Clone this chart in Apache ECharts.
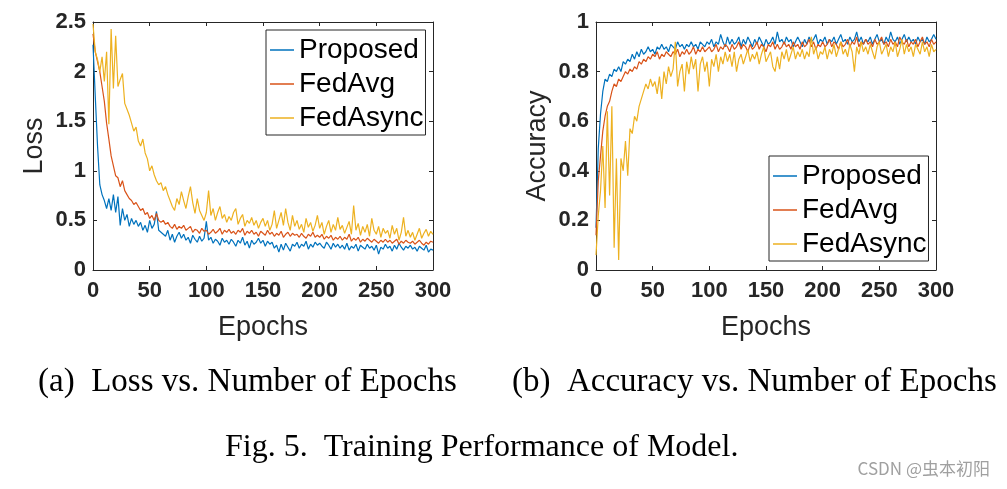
<!DOCTYPE html>
<html>
<head>
<meta charset="utf-8">
<script src="https://cdn.jsdelivr.net/npm/echarts@6/dist/echarts.min.js"></script>
<style>
html,body{margin:0;padding:0;background:#fff;}
#c{width:1007px;height:489px;}
</style>
</head>
<body>
<div id="c"></div>
<script>
// Epoch sample positions (every 2 epochs, 0..300)
const epochs = [];
for (let e = 0; e <= 300; e += 2) epochs.push(e);

const seriesNames = ['Proposed', 'FedAvg', 'FedAsync'];

const lossProposed = [
2.27,1.75,1.25,0.86,0.76,0.70,0.62,0.72,0.60,0.76,
0.58,0.74,0.45,0.62,0.50,0.56,0.44,0.52,0.46,0.50,
0.44,0.48,0.40,0.45,0.38,0.50,0.42,0.46,0.59,0.40,
0.38,0.36,0.34,0.40,0.30,0.36,0.28,0.34,0.38,0.32,
0.36,0.30,0.33,0.27,0.35,0.31,0.28,0.34,0.29,0.32,
0.49,0.30,0.33,0.27,0.31,0.29,0.25,0.32,0.28,0.30,
0.26,0.31,0.28,0.24,0.30,0.27,0.33,0.25,0.29,0.22,
0.30,0.26,0.28,0.32,0.27,0.30,0.24,0.29,0.26,0.28,
0.22,0.25,0.18,0.26,0.20,0.27,0.23,0.19,0.26,0.24,
0.28,0.22,0.26,0.24,0.29,0.21,0.26,0.23,0.28,0.25,
0.27,0.24,0.22,0.28,0.25,0.21,0.27,0.23,0.26,0.22,
0.25,0.21,0.27,0.20,0.24,0.22,0.26,0.19,0.25,0.23,
0.21,0.26,0.22,0.24,0.20,0.25,0.16,0.23,0.21,0.26,
0.22,0.24,0.19,0.25,0.21,0.27,0.23,0.20,0.24,0.22,
0.25,0.21,0.23,0.19,0.24,0.22,0.20,0.25,0.18,0.21,
0.20];

const lossFedAvg = [
2.38,2.20,2.10,2.00,1.85,1.70,1.48,1.32,1.15,1.05,
0.95,0.93,0.84,0.90,0.80,0.76,0.72,0.70,0.66,0.68,
0.64,0.60,0.62,0.56,0.58,0.52,0.55,0.50,0.57,0.50,
0.48,0.50,0.46,0.48,0.44,0.42,0.46,0.41,0.44,0.42,
0.45,0.40,0.42,0.44,0.38,0.41,0.40,0.37,0.42,0.39,
0.40,0.36,0.38,0.41,0.37,0.39,0.42,0.36,0.40,0.38,
0.41,0.37,0.39,0.36,0.40,0.38,0.42,0.35,0.39,0.37,
0.40,0.36,0.38,0.34,0.39,0.37,0.35,0.40,0.36,0.38,
0.34,0.37,0.35,0.39,0.33,0.36,0.38,0.34,0.37,0.35,
0.36,0.33,0.37,0.34,0.32,0.36,0.34,0.38,0.33,0.35,
0.33,0.36,0.31,0.34,0.32,0.35,0.30,0.33,0.31,0.34,
0.30,0.33,0.31,0.36,0.29,0.32,0.30,0.33,0.28,0.31,
0.29,0.32,0.30,0.28,0.31,0.29,0.27,0.30,0.28,0.31,
0.28,0.30,0.27,0.29,0.31,0.26,0.29,0.27,0.30,0.28,
0.27,0.29,0.26,0.28,0.30,0.27,0.25,0.28,0.26,0.29,
0.28];

const lossFedAsync = [
2.48,2.20,2.12,2.00,2.15,1.90,2.20,1.47,2.43,1.83,
2.36,1.85,1.92,1.98,1.68,1.62,1.56,1.48,1.40,1.44,
1.30,1.25,1.32,1.18,1.12,1.00,1.05,0.96,0.90,0.86,
0.88,0.80,0.84,0.76,0.70,0.64,0.60,0.72,0.66,0.79,
0.70,0.62,0.74,0.84,0.68,0.57,0.72,0.60,0.55,0.50,
0.58,0.80,0.55,0.62,0.50,0.58,0.64,0.52,0.56,0.48,
0.54,0.50,0.58,0.62,0.46,0.52,0.56,0.44,0.50,0.47,
0.53,0.45,0.50,0.42,0.48,0.52,0.44,0.50,0.40,0.46,
0.60,0.42,0.50,0.58,0.45,0.62,0.48,0.40,0.55,0.44,
0.50,0.41,0.46,0.38,0.52,0.43,0.48,0.39,0.45,0.55,
0.42,0.48,0.36,0.44,0.50,0.38,0.46,0.40,0.53,0.41,
0.45,0.37,0.43,0.49,0.36,0.65,0.40,0.47,0.35,0.44,
0.38,0.46,0.34,0.52,0.40,0.36,0.44,0.33,0.42,0.37,
0.40,0.32,0.45,0.36,0.42,0.30,0.38,0.53,0.34,0.40,
0.33,0.38,0.30,0.36,0.42,0.32,0.37,0.41,0.34,0.39,
0.36];

const accProposed = [
0.17,0.49,0.63,0.72,0.77,0.76,0.79,0.78,0.81,0.80,
0.82,0.80,0.84,0.83,0.85,0.84,0.87,0.85,0.88,0.86,
0.89,0.87,0.88,0.90,0.88,0.89,0.87,0.90,0.89,0.91,
0.89,0.90,0.88,0.91,0.90,0.89,0.92,0.90,0.91,0.89,
0.91,0.90,0.92,0.90,0.91,0.89,0.92,0.91,0.90,0.92,
0.91,0.93,0.90,0.92,0.91,0.95,0.92,0.90,0.94,0.91,
0.93,0.91,0.92,0.94,0.90,0.93,0.91,0.94,0.92,0.90,
0.93,0.91,0.94,0.92,0.90,0.93,0.91,0.92,0.94,0.91,
0.96,0.92,0.93,0.91,0.94,0.92,0.93,0.90,0.92,0.94,
0.92,0.90,0.93,0.91,0.94,0.92,0.93,0.95,0.91,0.93,
0.92,0.94,0.91,0.93,0.92,0.94,0.91,0.93,0.95,0.92,
0.93,0.91,0.94,0.92,0.93,0.96,0.92,0.94,0.91,0.93,
0.92,0.94,0.91,0.93,0.95,0.92,0.93,0.91,0.94,0.92,
0.96,0.93,0.92,0.94,0.91,0.93,0.95,0.92,0.94,0.92,
0.93,0.91,0.94,0.92,0.93,0.91,0.94,0.92,0.93,0.95,
0.93];

const accFedAvg = [
0.14,0.36,0.46,0.56,0.62,0.66,0.68,0.72,0.75,0.74,
0.77,0.76,0.78,0.80,0.79,0.81,0.80,0.82,0.81,0.84,
0.83,0.85,0.84,0.86,0.85,0.87,0.86,0.88,0.85,0.87,
0.86,0.88,0.87,0.86,0.88,0.87,0.89,0.86,0.88,0.87,
0.89,0.87,0.88,0.90,0.87,0.89,0.88,0.90,0.88,0.89,
0.90,0.88,0.89,0.91,0.88,0.90,0.89,0.91,0.90,0.88,
0.91,0.89,0.90,0.92,0.89,0.91,0.90,0.88,0.91,0.89,
0.90,0.92,0.89,0.91,0.90,0.88,0.91,0.90,0.92,0.89,
0.91,0.89,0.90,0.92,0.90,0.91,0.89,0.92,0.90,0.91,
0.89,0.92,0.90,0.91,0.93,0.90,0.92,0.89,0.91,0.90,
0.92,0.90,0.91,0.93,0.90,0.92,0.91,0.89,0.92,0.90,
0.91,0.93,0.90,0.92,0.91,0.94,0.90,0.92,0.91,0.93,
0.91,0.92,0.90,0.93,0.91,0.92,0.94,0.91,0.92,0.90,
0.93,0.91,0.92,0.90,0.94,0.92,0.91,0.93,0.90,0.92,
0.91,0.93,0.90,0.92,0.94,0.91,0.92,0.90,0.93,0.91,
0.92];

const accFedAsync = [
0.06,0.22,0.32,0.50,0.25,0.64,0.30,0.66,0.09,0.45,
0.04,0.45,0.40,0.52,0.38,0.57,0.55,0.62,0.60,0.66,
0.69,0.72,0.75,0.73,0.77,0.74,0.76,0.71,0.78,0.69,
0.80,0.75,0.82,0.78,0.81,0.92,0.74,0.80,0.83,0.72,
0.84,0.79,0.86,0.81,0.85,0.72,0.83,0.86,0.80,0.84,
0.74,0.85,0.82,0.87,0.80,0.86,0.83,0.88,0.84,0.87,
0.82,0.88,0.80,0.85,0.87,0.83,0.86,0.89,0.84,0.87,
0.85,0.88,0.83,0.87,0.90,0.84,0.86,0.88,0.82,0.80,
0.86,0.81,0.88,0.85,0.89,0.84,0.87,0.90,0.85,0.88,
0.86,0.89,0.85,0.88,0.86,0.94,0.87,0.90,0.85,0.88,
0.87,0.90,0.85,0.89,0.87,0.91,0.86,0.89,0.92,0.87,
0.89,0.86,0.91,0.88,0.80,0.90,0.87,0.92,0.88,0.90,
0.87,0.91,0.88,0.85,0.90,0.92,0.87,0.89,0.91,0.86,
0.90,0.88,0.92,0.86,0.89,0.93,0.87,0.91,0.88,0.90,
0.86,0.91,0.89,0.87,0.92,0.88,0.90,0.86,0.91,0.88,
0.89];

const colors = ['#0072BD', '#D95319', '#EDB120'];
const axisColor = '#262626';
const sansFont = 'Liberation Sans, Arial, Helvetica, sans-serif';
const serifFont = 'Liberation Serif, Times New Roman, serif';

const pair = arr => arr.map((v, i) => [epochs[i], v]);

function xAxes(gridIndex) {
  return [
    {
      type: 'value', gridIndex, position: 'bottom', min: 0, max: 300, interval: 50,
      name: 'Epochs', nameLocation: 'middle', nameGap: 44,
      nameTextStyle: { fontFamily: sansFont, fontSize: 27, color: axisColor },
      axisLine: { show: true, onZero: false, lineStyle: { color: axisColor, width: 1 } },
      axisTick: { show: true, inside: true, length: 4, lineStyle: { color: axisColor } },
      axisLabel: { margin: 10, fontFamily: sansFont, fontSize: 22, fontWeight: 'bold', color: axisColor },
      splitLine: { show: false }
    },
    {
      type: 'value', gridIndex, position: 'top', min: 0, max: 300, interval: 50,
      axisLine: { show: true, onZero: false, lineStyle: { color: axisColor, width: 1 } },
      axisTick: { show: true, inside: true, length: 4, lineStyle: { color: axisColor } },
      axisLabel: { show: false },
      splitLine: { show: false }
    }
  ];
}

function yAxes(gridIndex, name, max, interval) {
  return [
    {
      type: 'value', gridIndex, position: 'left', min: 0, max, interval,
      name, nameLocation: 'middle', nameGap: 45,
      nameTextStyle: { fontFamily: sansFont, fontSize: 27, color: axisColor },
      axisLine: { show: true, onZero: false, lineStyle: { color: axisColor, width: 1 } },
      axisTick: { show: true, inside: true, length: 4, lineStyle: { color: axisColor } },
      axisLabel: { margin: 7, fontFamily: sansFont, fontSize: 22, fontWeight: 'bold', color: axisColor },
      splitLine: { show: false }
    },
    {
      type: 'value', gridIndex, position: 'right', min: 0, max, interval,
      axisLine: { show: true, onZero: false, lineStyle: { color: axisColor, width: 1 } },
      axisTick: { show: true, inside: true, length: 4, lineStyle: { color: axisColor } },
      axisLabel: { show: false },
      splitLine: { show: false }
    }
  ];
}

function lineSeries(name, data, idx, xAxisIndex, yAxisIndex) {
  return {
    name, type: 'line', data: pair(data), xAxisIndex, yAxisIndex,
    symbol: 'none', showSymbol: false, animation: false,
    lineStyle: { color: colors[idx], width: 1.2 },
    itemStyle: { color: colors[idx] },
    clip: true
  };
}

function legendAt(left, top, names) {
  return {
    left, top, orient: 'vertical',
    data: names.map(n => ({ name: n, icon: 'rect' })),
    backgroundColor: '#fff',
    borderColor: axisColor, borderWidth: 1,
    padding: [3, 2, 0, 4],
    itemGap: 0, itemWidth: 24, itemHeight: 1.5,
    textStyle: { fontFamily: sansFont, fontSize: 28, color: '#000', lineHeight: 34 },
    selectedMode: false
  };
}

const chart = echarts.init(document.getElementById('c'), null, { renderer: 'canvas' });

const option = {
  backgroundColor: '#fff',
  animation: false,
  color: colors,
  grid: [
    { left: 93, top: 22, width: 340, height: 248 },
    { left: 596, top: 22, width: 340, height: 248 }
  ],
  xAxis: [...xAxes(0), ...xAxes(1)],
  yAxis: [...yAxes(0, 'Loss', 2.5, 0.5), ...yAxes(1, 'Accuracy', 1, 0.2)],
  legend: [
    legendAt(266, 30, seriesNames),
    legendAt(769, 156, seriesNames)
  ],
  series: [
    lineSeries('Proposed', lossProposed, 0, 0, 0),
    lineSeries('FedAvg', lossFedAvg, 1, 0, 0),
    lineSeries('FedAsync', lossFedAsync, 2, 0, 0),
    lineSeries('Proposed', accProposed, 0, 2, 2),
    lineSeries('FedAvg', accFedAvg, 1, 2, 2),
    lineSeries('FedAsync', accFedAsync, 2, 2, 2)
  ],
  graphic: [
    { type: 'text', left: 38, top: 366, style: { text: '(a)  Loss vs. Number of Epochs', font: '33px ' + serifFont, fill: '#000' } },
    { type: 'text', left: 512, top: 366, style: { text: '(b)  Accuracy vs. Number of Epochs', font: '33px ' + serifFont, fill: '#000' } },
    { type: 'text', left: 225, top: 432, style: { text: 'Fig. 5.  Training Performance of Model.', font: '32px ' + serifFont, fill: '#000' } },
    { type: 'text', right: 17, top: 460, style: { text: 'CSDN @虫本初阳', font: '17px "Noto Sans CJK SC", sans-serif', fill: '#a0a0a0' } }
  ]
};
chart.setOption(option);
</script>
</body>
</html>
